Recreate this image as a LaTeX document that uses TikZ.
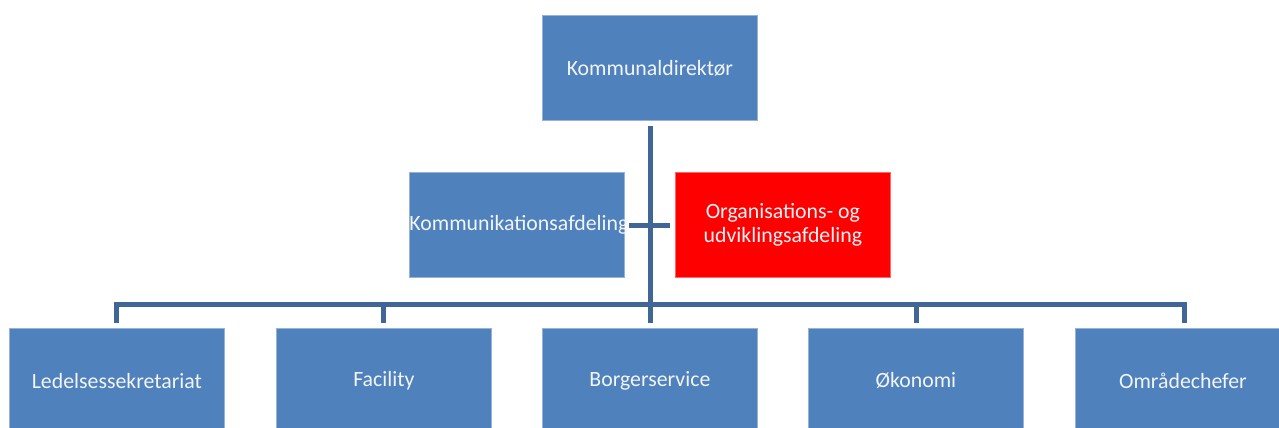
\documentclass[tikz,border=0pt]{standalone}
\usepackage{fontspec}
\setmainfont{Carlito}
\definecolor{boxblue}{HTML}{4F81BD}
\definecolor{linkblue}{HTML}{3F6697}
\definecolor{boxred}{HTML}{FF0000}
\definecolor{boxtext}{HTML}{F2F4F8}
\begin{document}
\begin{tikzpicture}[x=1pt,y=-1pt,
  orgbox/.style={fill=boxblue, draw=boxblue!60!white, line width=0.8pt, minimum width=215pt, minimum height=105pt,
    inner sep=0pt, text=boxtext, font=\fontsize{21.8}{23.5}\selectfont, align=center, anchor=north west},
  redbox/.style={orgbox, fill=boxred, draw=boxred!60!white},
  link/.style={draw=linkblue, line width=5pt}]
\useasboundingbox (0,0) rectangle (1279,428);
\node[orgbox] (kd) at (542,15) {Kommunaldirektør};
\node[orgbox] (kom) at (409,172) {\hbox to 215pt{Kommunikationsafdeling\hss}};
\node[redbox] (org) at (675,172) {Organisations- og\\udviklingsafdeling};
\node[orgbox] (led) at (9,328) {Ledelsessekretariat};
\node[orgbox] (fac) at (276,328) {Facility};
\node[orgbox] (bor) at (542,328) {Borgerservice};
\node[orgbox] (oko) at (808,328) {Økonomi};
\node[orgbox] (omr) at (1075,328) {Områdechefer};
% connector points
\coordinate (trunkTop) at (650,126);
\coordinate (trunkBot) at (650,323);
\coordinate (stubL) at (629,225);
\coordinate (stubR) at (670,225);
\path[link] (trunkTop) -- (trunkBot);
\path[link] (stubL) -- (stubR);
\coordinate (barL) at (116,304);
\coordinate (barR) at (1184,304);
\coordinate (dLed) at (116,323);
\coordinate (dFac) at (383,323);
\coordinate (dOko) at (916,323);
\coordinate (dOmr) at (1184,323);
\coordinate (bFac) at (383,304);
\coordinate (bOko) at (916,304);
\path[link, line join=miter] (dLed) -- (barL) -- (barR) -- (dOmr);
\path[link] (bFac) -- (dFac);
\path[link] (bOko) -- (dOko);
\end{tikzpicture}
\end{document}
